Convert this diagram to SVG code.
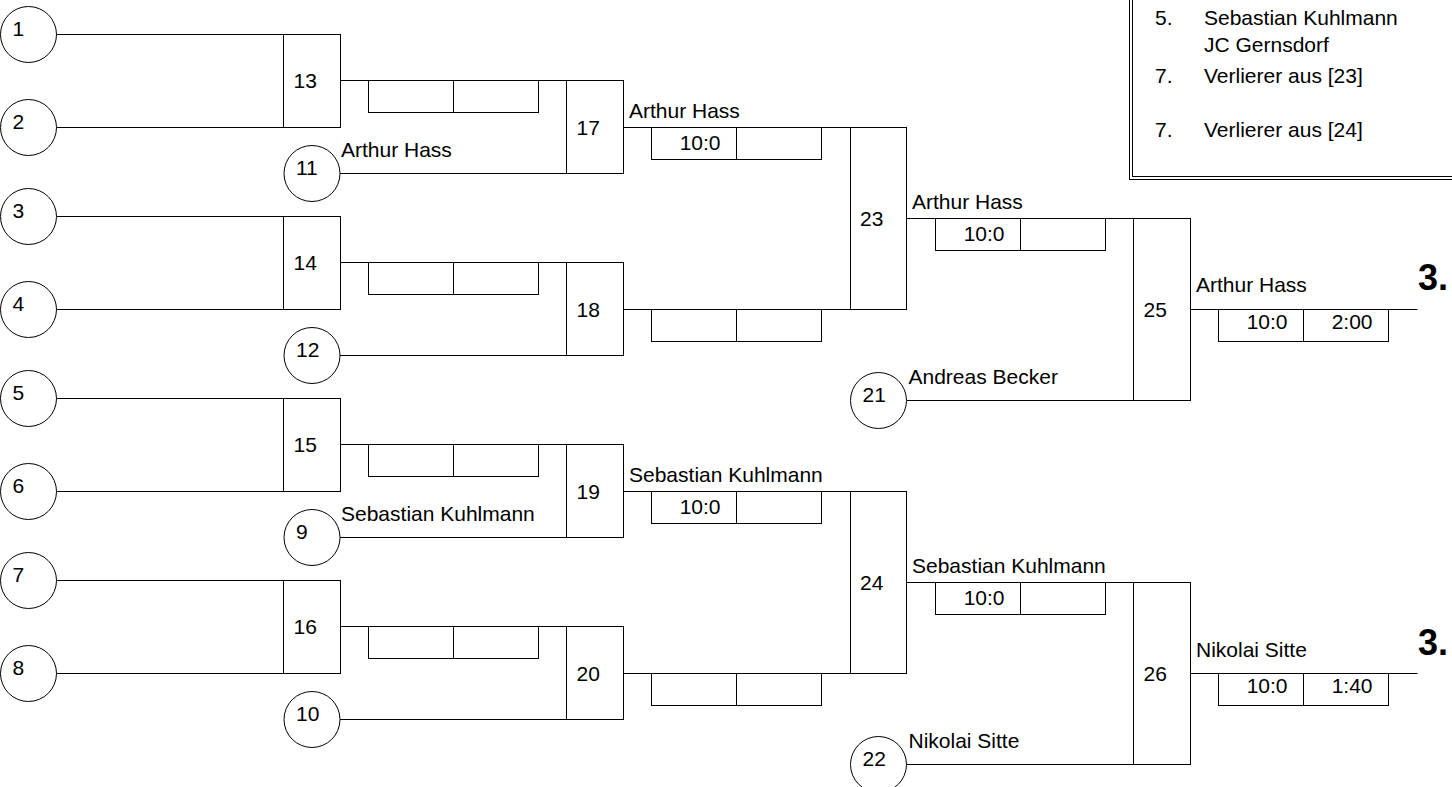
<svg xmlns="http://www.w3.org/2000/svg" width="1452" height="787" viewBox="0 0 1452 787">
<style>
.ln{stroke:#000;stroke-width:1;fill:none}
.bx{stroke:#000;stroke-width:1;fill:#fff}
.t{font-family:"Liberation Sans",Arial,sans-serif;font-size:21px;fill:#000}
.e{text-anchor:end}
.big{font-family:"Liberation Sans",Arial,sans-serif;font-size:36px;font-weight:bold;fill:#000}
</style>
<rect width="1452" height="787" fill="#fff"/>

<g id="legend">
<rect class="ln" x="1129.5" y="-10" width="400" height="189.5"/>
<rect class="ln" x="1132.5" y="-10" width="400" height="186.5"/>
<text class="t" x="1155" y="25">5.</text>
<text class="t" x="1204" y="25">Sebastian Kuhlmann</text>
<text class="t" x="1204" y="52">JC Gernsdorf</text>
<text class="t" x="1155" y="83">7.</text>
<text class="t" x="1204" y="83">Verlierer aus [23]</text>
<text class="t" x="1155" y="137">7.</text>
<text class="t" x="1204" y="137">Verlierer aus [24]</text>
</g>

<g id="connectors">
<!-- round 1 inputs -->
<path class="ln" d="M56.5 34.5H283.5M56.5 127.5H283.5M56.5 216.5H283.5M56.5 309.5H283.5M56.5 398.5H283.5M56.5 491.5H283.5M56.5 580.5H283.5M56.5 673.5H283.5"/>
<!-- round 1 outputs to round 2 -->
<path class="ln" d="M340.5 80.5H566.5M340.5 262.5H566.5M340.5 444.5H566.5M340.5 626.5H566.5"/>
<!-- seeded circles to round 2 -->
<path class="ln" d="M340 173.5H566.5M340 355.5H566.5M340 537.5H566.5M340 719.5H566.5"/>
<!-- round 2 outputs to round 3 -->
<path class="ln" d="M623.5 127.5H850.5M623.5 309.5H850.5M623.5 491.5H850.5M623.5 673.5H850.5"/>
<!-- round 3 outputs and circles to round 4 -->
<path class="ln" d="M906.5 218.5H1133.5M906.5 400.5H1133.5M906.5 582.5H1133.5M906.5 764.5H1133.5"/>
<!-- final outputs -->
<path class="ln" d="M1190.5 309.5H1417.5M1190.5 673.5H1417.5"/>
</g>

<g id="seed-1"><circle class="bx" cx="28.5" cy="34.5" r="28"/><text class="t" x="12.5" y="35.5">1</text></g>
<g id="seed-2"><circle class="bx" cx="28.5" cy="127.5" r="28"/><text class="t" x="12.5" y="128.5">2</text></g>
<g id="seed-3"><circle class="bx" cx="28.5" cy="216.5" r="28"/><text class="t" x="12.5" y="217.5">3</text></g>
<g id="seed-4"><circle class="bx" cx="28.5" cy="309.5" r="28"/><text class="t" x="12.5" y="310.5">4</text></g>
<g id="seed-5"><circle class="bx" cx="28.5" cy="398.5" r="28"/><text class="t" x="12.5" y="399.5">5</text></g>
<g id="seed-6"><circle class="bx" cx="28.5" cy="491.5" r="28"/><text class="t" x="12.5" y="492.5">6</text></g>
<g id="seed-7"><circle class="bx" cx="28.5" cy="580.5" r="28"/><text class="t" x="12.5" y="581.5">7</text></g>
<g id="seed-8"><circle class="bx" cx="28.5" cy="673.5" r="28"/><text class="t" x="12.5" y="674.5">8</text></g>

<g id="seed-11"><circle class="bx" cx="312" cy="173.5" r="28"/><text class="t" x="296" y="174.5">11</text><text class="t" x="341" y="156.5">Arthur Hass</text></g>
<g id="seed-12"><circle class="bx" cx="312" cy="355.5" r="28"/><text class="t" x="296" y="356.5">12</text></g>
<g id="seed-9"><circle class="bx" cx="312" cy="537.5" r="28"/><text class="t" x="296" y="538.5">9</text><text class="t" x="341" y="520.5">Sebastian Kuhlmann</text></g>
<g id="seed-10"><circle class="bx" cx="312" cy="719.5" r="28"/><text class="t" x="296" y="720.5">10</text></g>

<g id="seed-21"><circle class="bx" cx="878.5" cy="400.5" r="28"/><text class="t" x="862.5" y="401.5">21</text><text class="t" x="908.5" y="383.5">Andreas Becker</text></g>
<g id="seed-22"><circle class="bx" cx="878.5" cy="764.5" r="28"/><text class="t" x="862.5" y="765.5">22</text><text class="t" x="908.5" y="747.5">Nikolai Sitte</text></g>

<g id="match-13"><rect class="bx" x="283.5" y="34.5" width="57" height="93"/><text class="t" x="293.5" y="88">13</text></g>
<g id="match-14"><rect class="bx" x="283.5" y="216.5" width="57" height="93"/><text class="t" x="293.5" y="270">14</text></g>
<g id="match-15"><rect class="bx" x="283.5" y="398.5" width="57" height="93"/><text class="t" x="293.5" y="452">15</text></g>
<g id="match-16"><rect class="bx" x="283.5" y="580.5" width="57" height="93"/><text class="t" x="293.5" y="634">16</text></g>

<g id="score-13-17"><rect class="bx" x="368.5" y="80.5" width="170" height="32"/><path class="ln" d="M453.5 80.5V112.5"/></g>
<g id="score-14-18"><rect class="bx" x="368.5" y="262.5" width="170" height="32"/><path class="ln" d="M453.5 262.5V294.5"/></g>
<g id="score-15-19"><rect class="bx" x="368.5" y="444.5" width="170" height="32"/><path class="ln" d="M453.5 444.5V476.5"/></g>
<g id="score-16-20"><rect class="bx" x="368.5" y="626.5" width="170" height="32"/><path class="ln" d="M453.5 626.5V658.5"/></g>

<g id="match-17"><rect class="bx" x="566.5" y="80.5" width="57" height="93"/><text class="t" x="576.5" y="135">17</text></g>
<g id="match-18"><rect class="bx" x="566.5" y="262.5" width="57" height="93"/><text class="t" x="576.5" y="317">18</text></g>
<g id="match-19"><rect class="bx" x="566.5" y="444.5" width="57" height="93"/><text class="t" x="576.5" y="499">19</text></g>
<g id="match-20"><rect class="bx" x="566.5" y="626.5" width="57" height="93"/><text class="t" x="576.5" y="681">20</text></g>

<g id="score-17-23"><rect class="bx" x="651.5" y="127.5" width="170" height="32"/><path class="ln" d="M736.5 127.5V159.5"/><text class="t e" x="720.5" y="150">10:0</text><text class="t" x="629" y="117.5">Arthur Hass</text></g>
<g id="score-18-23"><rect class="bx" x="651.5" y="309.5" width="170" height="32"/><path class="ln" d="M736.5 309.5V341.5"/></g>
<g id="score-19-24"><rect class="bx" x="651.5" y="491.5" width="170" height="32"/><path class="ln" d="M736.5 491.5V523.5"/><text class="t e" x="720.5" y="514">10:0</text><text class="t" x="629" y="481.5">Sebastian Kuhlmann</text></g>
<g id="score-20-24"><rect class="bx" x="651.5" y="673.5" width="170" height="32"/><path class="ln" d="M736.5 673.5V705.5"/></g>

<g id="match-23"><rect class="bx" x="850.5" y="127.5" width="56" height="182"/><text class="t" x="860" y="225.5">23</text></g>
<g id="match-24"><rect class="bx" x="850.5" y="491.5" width="56" height="182"/><text class="t" x="860" y="589.5">24</text></g>

<g id="score-23-25"><rect class="bx" x="935.5" y="218.5" width="170" height="32"/><path class="ln" d="M1020.5 218.5V250.5"/><text class="t e" x="1004.5" y="241">10:0</text><text class="t" x="912" y="208.5">Arthur Hass</text></g>
<g id="score-24-26"><rect class="bx" x="935.5" y="582.5" width="170" height="32"/><path class="ln" d="M1020.5 582.5V614.5"/><text class="t e" x="1004.5" y="605">10:0</text><text class="t" x="912" y="572.5">Sebastian Kuhlmann</text></g>

<g id="match-25"><rect class="bx" x="1133.5" y="218.5" width="57" height="182"/><text class="t" x="1143.5" y="316.5">25</text></g>
<g id="match-26"><rect class="bx" x="1133.5" y="582.5" width="57" height="182"/><text class="t" x="1143.5" y="680.5">26</text></g>

<g id="result-25"><rect class="bx" x="1218.5" y="309.5" width="170" height="32"/><path class="ln" d="M1303.5 309.5V341.5"/><text class="t e" x="1287.5" y="329">10:0</text><text class="t e" x="1372.5" y="329">2:00</text><text class="t" x="1196" y="291.5">Arthur Hass</text><text class="big" x="1418" y="290">3.</text></g>
<g id="result-26"><rect class="bx" x="1218.5" y="673.5" width="170" height="32"/><path class="ln" d="M1303.5 673.5V705.5"/><text class="t e" x="1287.5" y="693">10:0</text><text class="t e" x="1372.5" y="693">1:40</text><text class="t" x="1196" y="656.5">Nikolai Sitte</text><text class="big" x="1418" y="655">3.</text></g>
</svg>
